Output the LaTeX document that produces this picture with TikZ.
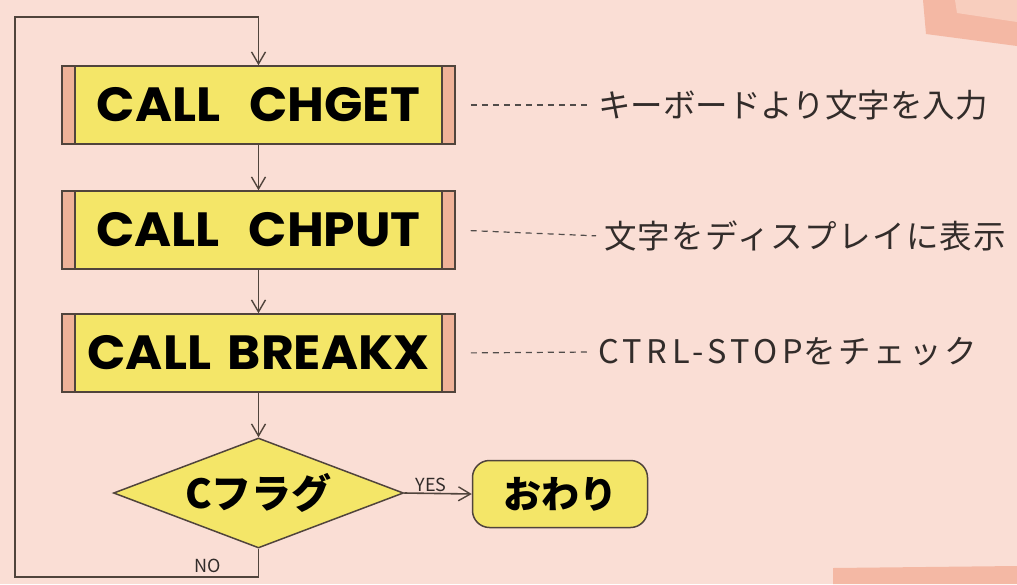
\documentclass[tikz,border=0pt]{standalone}
\usepackage{fontspec}
\usetikzlibrary{arrows.meta,shapes.geometric}
\newfontfamily\jpfont{Noto Sans CJK JP}
\newfontfamily\boxfont{Poppins}[FakeStretch=1.05]
\definecolor{bgpink}{RGB}{250,222,213}
\definecolor{boxyellow}{RGB}{244,230,104}
\definecolor{sidec}{RGB}{239,178,152}
\definecolor{linec}{RGB}{80,68,60}
\definecolor{notec}{RGB}{50,44,42}
\definecolor{framec}{RGB}{244,184,164}
\definecolor{framelight}{RGB}{248,206,190}
\tikzset{
  procbox/.style={draw=linec, line width=1.5pt, fill=sidec,
    minimum width=393pt, minimum height=78pt, inner sep=0pt,
    font=\boxfont\bfseries\fontsize{48}{48}\selectfont,
    path picture={
      \fill[boxyellow] ([xshift=13pt]path picture bounding box.south west) rectangle ([xshift=-13pt]path picture bounding box.north east);
      \draw[linec,line width=1.3pt] ([xshift=13pt]path picture bounding box.south west) -- ([xshift=13pt]path picture bounding box.north west);
      \draw[linec,line width=1.3pt] ([xshift=-13pt]path picture bounding box.south east) -- ([xshift=-13pt]path picture bounding box.north east);
    }},
  decision/.style={diamond, draw=linec, fill=boxyellow, line width=1.5pt,
    minimum width=290pt, minimum height=110pt, inner sep=0pt, aspect=2.6,
    font=\jpfont\bfseries\fontsize{40}{40}\selectfont},
  endbox/.style={rectangle, rounded corners=17pt, draw=linec, fill=boxyellow, line width=1.5pt,
    minimum width=175pt, minimum height=67pt, inner sep=0pt,
    font=\jpfont\bfseries\fontsize{38}{38}\selectfont},
  note/.style={anchor=west, inner sep=4pt, text=notec, font=\jpfont\fontsize{32.5}{32.5}\selectfont},
  lbl/.style={inner sep=1pt, text=notec, font=\jpfont\fontsize{18}{18}\selectfont},
  conn/.style={draw=linec, line width=1.6pt},
  arr/.style={-{Straight Barb[length=12pt,width=14pt,line width=1.4pt]}},
  leader/.style={draw=notec!85, line width=1.2pt, dash pattern=on 6pt off 5pt, shorten <=15pt, shorten >=4pt}
}
\begin{document}
\begin{tikzpicture}[x=1pt,y=-1pt]
\useasboundingbox (0,0) rectangle (1017,584);
\fill[bgpink] (0,0) rectangle (1017,584);
\fill[framec] (923,0) -- (926,34) -- (1017,46) -- (1017,0) -- cycle;
\fill[framelight] (955,0) -- (957,13) -- (1017,22) -- (1017,0) -- cycle;
\fill[framec] (833,568) -- (1017,566) -- (1017,584) -- (833,584) -- cycle;

\node[procbox] (b1) at (258.5,105) {CALL\hspace{0.6em}CHGET};
\node[procbox] (b2) at (258.5,230) {CALL\hspace{0.6em}CHPUT};
\node[procbox] (b3) at (258.5,353) {CALL\hspace{0.35em}BREAKX};
\node[decision] (d) at (258.5,493) {Cフラグ};
\node[endbox] (e) at (560,494) {おわり};

\coordinate (topr) at (258.5,17);
\coordinate (topl) at (15,17);
\coordinate (botl) at (15,577);
\coordinate (botr) at (d.south |- botl);

\draw[conn,arr] (topr) -- (b1.north);
\draw[conn,arr] (b1) -- (b2);
\draw[conn,arr] (b2) -- (b3);
\draw[conn,arr] (b3) -- (d);
\draw[conn] (d.south) -- (botr) -- (botl) -- (topl) -- (topr);
\draw[conn,arr] (d.east) -- node[lbl, above=0pt, pos=0.4] (yes) {YES} (e.west);
\node[lbl] (no) at (208,566) {NO};

\node[note] (n1) at (594,105) {キーボードより文字を入力};
\node[note] (n2) at (600,236) {\addfontfeatures{LetterSpace=4}文字をディスプレイに表示};
\node[note] (n3) at (594,352) {\addfontfeatures{LetterSpace=9}{\addfontfeatures{LetterSpace=14}CTRL-STOP}をチェック};
\draw[leader] (b1.east) -- (n1.west);
\draw[leader] (b2.east) -- (n2.west);
\draw[leader] (b3.east) -- (n3.west);
\end{tikzpicture}
\end{document}
